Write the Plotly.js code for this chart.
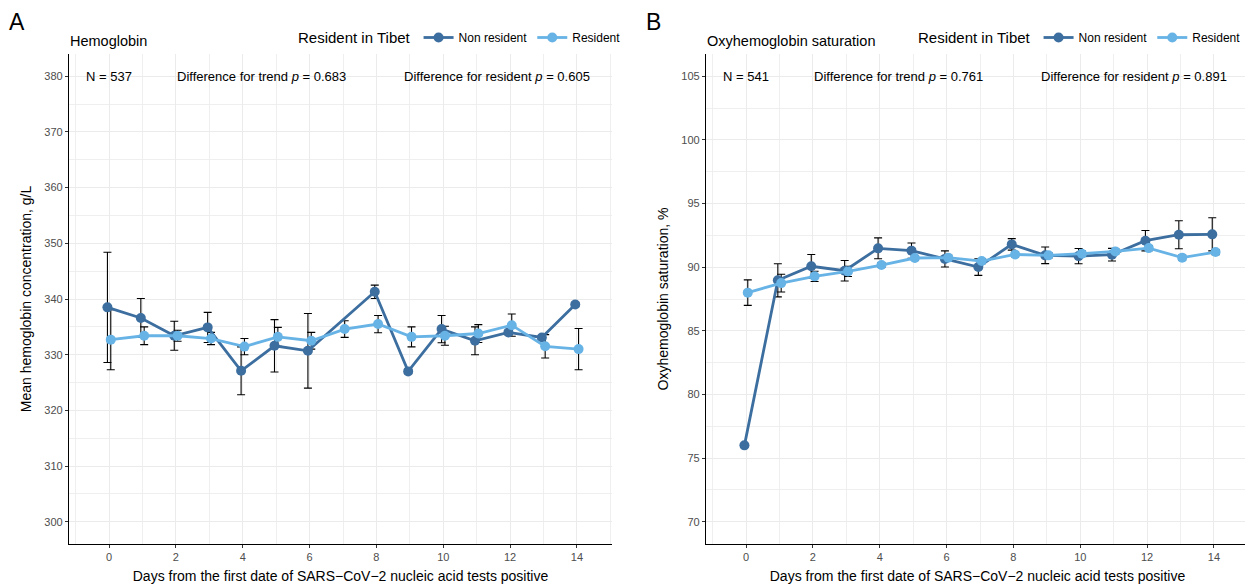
<!DOCTYPE html>
<html>
<head>
<meta charset="utf-8">
<script src="https://cdn.plot.ly/plotly-3.0.1.min.js"></script>
<style>html,body{margin:0;padding:0;background:#fff;overflow:hidden;}#chart{width:1270px;height:584px;}</style>
</head>
<body>
<div id="chart"></div>
<script>
// ---- data ----
const days = [0, 1, 2, 3, 4, 5, 6, 7, 8, 9, 10, 11, 12, 13, 14];
const groupNames = ["Non resident", "Resident"];

// Panel A: hemoglobin (g/L)
const hbNonResident    = [338.5, 336.6, 333.4, 334.9, 327.1, 331.6, 330.7, null, 341.3, 327.0, 334.6, 332.5, 334.0, 333.1, 339.0];
const hbNonResidentErr = [9.9, 3.5, 2.6, 2.7, 4.3, 4.7, 6.7, null, 1.2, 0.4, 2.45, 2.5, 0.4, 0.4, 0.4];
const hbResident       = [332.7, 333.4, 333.4, 332.9, 331.45, 333.2, 332.5, 334.6, 335.5, 333.2, 333.4, 333.8, 335.3, 331.5, 331.0];
const hbResidentErr    = [5.4, 1.6, 1.0, 1.1, 1.45, 1.7, 1.5, 1.5, 1.55, 1.8, 1.7, 1.6, 2.0, 2.1, 3.7];

// Panel B: oxyhemoglobin saturation (%)
const soNonResident    = [76.0, 88.97, 90.07, 89.72, 91.48, 91.30, 90.65, 90.01, 91.79, 90.93, 90.87, 90.98, 92.08, 92.55, 92.58];
const soNonResidentErr = [0.15, 1.3, 0.93, 0.8, 0.82, 0.6, 0.63, 0.65, 0.45, 0.65, 0.6, 0.5, 0.8, 1.1, 1.3];
const soResident       = [88.0, 88.75, 89.28, 89.67, 90.17, 90.72, 90.75, 90.48, 91.0, 90.93, 91.06, 91.24, 91.5, 90.75, 91.19];
const soResidentErr    = [1.0, 0.7, 0.4, 0.4, 0.2, 0.2, 0.2, 0.2, 0.2, 0.2, 0.2, 0.2, 0.2, 0.2, 0.2];

const panelTitles = ["Hemoglobin", "Oxyhemoglobin saturation"];
const panelLetters = ["A", "B"];
const nLabels = ["N = 537", "N = 541"];
const trendP = ["0.683", "0.761"];
const residentP = ["0.605", "0.891"];
const legendTitle = "Resident in Tibet";
const xTitle = "Days from the first date of SARS\u2212CoV\u22122 nucleic acid tests positive";
const yTitles = ["Mean hemoglobin concentration, g/L", "Oxyhemoglobin saturation, %"];

// ---- styling ----
const colNon = "#3C6E9F";
const colRes = "#67B3E6";
const FONT = "Liberation Sans, Arial, Helvetica, sans-serif";
const dodge = 0.05;

function errTrace(y, err, shift, xa, ya) {
  return {
    type: "scatter", mode: "markers",
    x: days.map(d => d + shift), y: y,
    xaxis: xa, yaxis: ya, showlegend: false, hoverinfo: "skip",
    marker: {color: "rgba(0,0,0,0)", size: 1},
    error_y: {type: "data", array: err, visible: true, color: "#000000", thickness: 1.1, width: 4}
  };
}
function lineTrace(y, name, color, shift, xa, ya, legend) {
  return {
    type: "scatter", mode: "lines+markers",
    x: days.map(d => d + shift), y: y, name: name,
    xaxis: xa, yaxis: ya, legend: legend, showlegend: true,
    connectgaps: true,
    line: {color: color, width: 2.8},
    marker: {color: color, size: 10},
    hoverinfo: "x+y+name"
  };
}

const data = [
  errTrace(hbNonResident, hbNonResidentErr, -dodge, "x", "y"),
  errTrace(hbResident, hbResidentErr, dodge, "x", "y"),
  errTrace(soNonResident, soNonResidentErr, -dodge, "x2", "y2"),
  errTrace(soResident, soResidentErr, dodge, "x2", "y2"),
  lineTrace(hbNonResident, groupNames[0], colNon, -dodge, "x", "y", "legend"),
  lineTrace(hbResident, groupNames[1], colRes, dodge, "x", "y", "legend"),
  lineTrace(soNonResident, groupNames[0], colNon, -dodge, "x2", "y2", "legend2"),
  lineTrace(soResident, groupNames[1], colRes, dodge, "x2", "y2", "legend2")
];

const W = 1270, H = 584;
const px = v => v / W, py = v => 1 - v / H;

const gridC = "#EBEBEB";
const tickFont = {family: FONT, size: 11, color: "#4D4D4D"};
function xAxis(domain, range, anchor) {
  return {
    domain: domain, range: range, anchor: anchor,
    tickmode: "linear", tick0: 0, dtick: 2,
    showgrid: true, gridcolor: gridC, gridwidth: 1,
    minor: {dtick: 1, showgrid: true, gridcolor: gridC, gridwidth: 0.8},
    zeroline: false, showline: true, linecolor: "#000", linewidth: 1.1,
    ticks: "outside", ticklen: 3, tickcolor: "#333", tickwidth: 1,
    tickfont: tickFont,
    title: {text: xTitle, font: {family: FONT, size: 14, color: "#000"}, standoff: 8},
    automargin: false
  };
}
function yAxis(domain, range, dtick, minorD, anchor, title) {
  return {
    domain: domain, range: range, anchor: anchor,
    tickmode: "linear", tick0: 0, dtick: dtick,
    showgrid: true, gridcolor: gridC, gridwidth: 1,
    minor: {dtick: minorD, showgrid: true, gridcolor: gridC, gridwidth: 0.8},
    zeroline: false, showline: true, linecolor: "#000", linewidth: 1.1,
    ticks: "outside", ticklen: 3, tickcolor: "#333", tickwidth: 1,
    tickfont: tickFont,
    title: {text: title, font: {family: FONT, size: 14, color: "#000"}, standoff: 9},
    automargin: false
  };
}

const yDom = [py(544), py(54)];

function legendCfg(xPix) {
  return {
    orientation: "h", x: px(xPix), xanchor: "left", y: py(38), yanchor: "middle",
    bgcolor: "rgba(0,0,0,0)", borderwidth: 0, itemwidth: 30,
    font: {family: FONT, size: 12, color: "#000"},
    title: {text: legendTitle, side: "left", font: {family: FONT, size: 15, color: "#000"}},
    traceorder: "normal"
  };
}

const annFont = {family: FONT, size: 13, color: "#000"};
const annotations = [];
[["x", "y", 380], ["x2", "y2", 105]].forEach((ax, i) => {
  annotations.push({xref: ax[0], yref: ax[1], x: 0, y: ax[2], text: nLabels[i], showarrow: false, font: annFont, xanchor: "center", yanchor: "middle"});
  annotations.push({xref: ax[0], yref: ax[1], x: 4.56, y: ax[2], text: "Difference for trend <i>p</i> = " + trendP[i], showarrow: false, font: annFont, xanchor: "center", yanchor: "middle"});
  annotations.push({xref: ax[0], yref: ax[1], x: 11.62, y: ax[2], text: "Difference for resident <i>p</i> = " + residentP[i], showarrow: false, font: annFont, xanchor: "center", yanchor: "middle"});
});
annotations.push({xref: "paper", yref: "paper", x: px(68), y: py(41), text: panelTitles[0], showarrow: false, xanchor: "left", yanchor: "middle", font: {family: FONT, size: 14.5, color: "#000"}});
annotations.push({xref: "paper", yref: "paper", x: px(705), y: py(41), text: panelTitles[1], showarrow: false, xanchor: "left", yanchor: "middle", font: {family: FONT, size: 14.5, color: "#000"}});
annotations.push({xref: "paper", yref: "paper", x: px(7), y: py(22), text: panelLetters[0], showarrow: false, xanchor: "left", yanchor: "middle", font: {family: FONT, size: 23, color: "#000"}});
annotations.push({xref: "paper", yref: "paper", x: px(644), y: py(22), text: panelLetters[1], showarrow: false, xanchor: "left", yanchor: "middle", font: {family: FONT, size: 23, color: "#000"}});

const layout = {
  width: W, height: H,
  margin: {l: 0, r: 0, t: 0, b: 0, pad: 0},
  paper_bgcolor: "#fff", plot_bgcolor: "#fff",
  font: {family: FONT, color: "#000"},
  xaxis: xAxis([px(69), px(612)], [-1.2, 15.05], "y"),
  yaxis: yAxis(yDom, [296, 384], 10, 5, "x", yTitles[0]),
  xaxis2: xAxis([px(706), px(1249)], [-1.2, 15.05], "y2"),
  yaxis2: yAxis(yDom, [68.25, 106.75], 5, 2.5, "x2", yTitles[1]),
  legend: legendCfg(296),
  legend2: legendCfg(916),
  annotations: annotations
};

Plotly.newPlot("chart", data, layout, {displayModeBar: false, staticPlot: true});
</script>
</body>
</html>
